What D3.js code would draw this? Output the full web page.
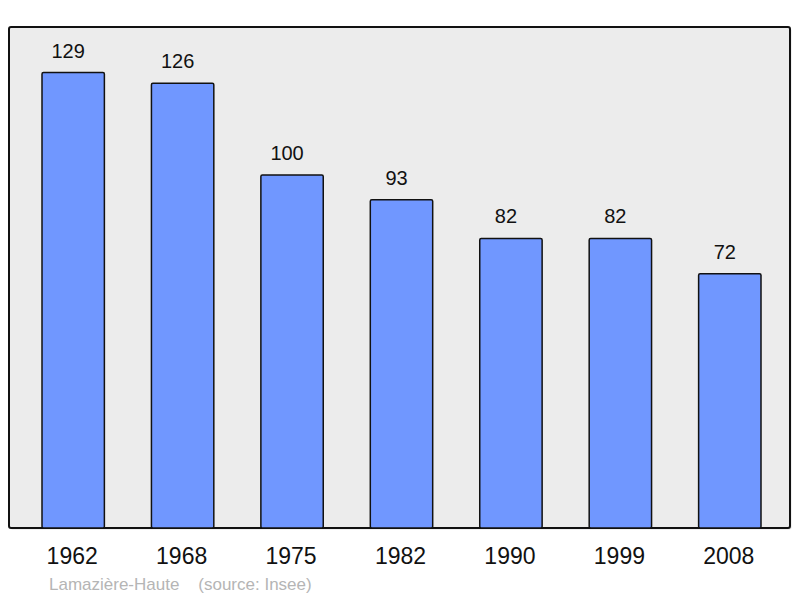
<!DOCTYPE html>
<html><head><meta charset="utf-8">
<script src="https://cdn.jsdelivr.net/npm/d3@7/dist/d3.min.js"></script>
<style>html,body{margin:0;padding:0;background:#fff}svg{display:block}</style>
</head><body>
<script>
const years = ["1962","1968","1975","1982","1990","1999","2008"];
const population = [129,126,100,93,82,82,72];
const sourceText = "Lamazière-Haute    (source: Insee)";

const W = 800, H = 598;
const svg = d3.select("body").append("svg").attr("width", W).attr("height", H);

const frame = {x0: 9, y0: 27, x1: 790, y1: 528};

svg.append("rect").attr("x", frame.x0+1.5).attr("y", frame.y0+1.5)
  .attr("width", frame.x1-frame.x0).attr("height", frame.y1-frame.y0)
  .attr("rx", 2).attr("fill", "#cfcfcf").attr("opacity", 0.6);
svg.append("rect").attr("x", frame.x0).attr("y", frame.y0)
  .attr("width", frame.x1-frame.x0).attr("height", frame.y1-frame.y0)
  .attr("rx", 2).attr("fill", "#ececec").attr("stroke", "#111").attr("stroke-width", 2);

const x = d3.scaleBand().domain(years).range([42, 761]).paddingInner(0.43).paddingOuter(0);
const y = d3.scaleLinear().domain([0, d3.max(population)*1.1]).range([frame.y1, frame.y0]);

const data = years.map((yr,i)=>({yr, v: population[i]}));

svg.append("g").selectAll("rect").data(data).join("rect")
  .attr("x", d=>x(d.yr)).attr("y", d=>y(d.v))
  .attr("width", x.bandwidth()).attr("height", d=>y(0)-y(d.v))
  .attr("rx", 1.5)
  .attr("fill", "#7097ff").attr("stroke", "#111").attr("stroke-width", 1.5);

svg.append("g").selectAll("text").data(data).join("text")
  .attr("x", d=>x(d.yr)+x.bandwidth()/2).attr("y", d=>y(d.v)-15)
  .attr("dx", -5)
  .attr("text-anchor", "middle").attr("font-family", "Liberation Sans, Arial, sans-serif")
  .attr("font-size", 20).attr("fill", "#111").text(d=>d.v);

const xAxis = d3.axisBottom(x).tickSize(0).tickPadding(0);
const gx = svg.append("g").attr("transform", `translate(0,${frame.y1})`).call(xAxis);
gx.select(".domain").remove();
gx.selectAll("text").attr("dy", null).attr("y", 36).attr("dx", -1)
  .attr("font-family", "Liberation Sans, Arial, sans-serif").attr("font-size", 23).attr("fill", "#111");

svg.append("text").attr("x", 49).attr("y", 590)
  .attr("font-family", "Liberation Sans, Arial, sans-serif").attr("font-size", 17)
  .attr("fill", "#b5b5b5").style("white-space", "pre").text(sourceText);
</script>
</body></html>
